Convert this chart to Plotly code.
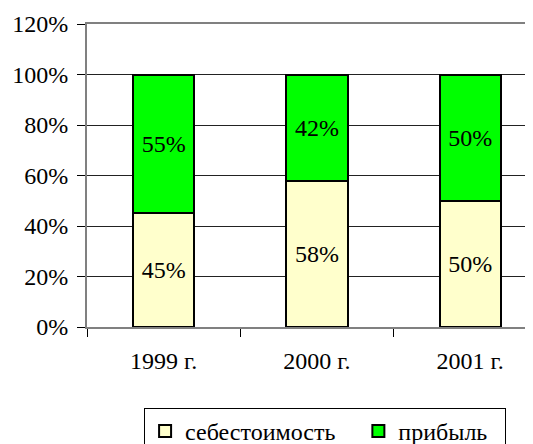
import plotly.graph_objects as go

categories = ["1999 г.", "2000 г.", "2001 г."]
cost_share = [0.45, 0.58, 0.50]
profit_share = [0.55, 0.42, 0.50]
cost_labels = ["45%", "58%", "50%"]
profit_labels = ["55%", "42%", "50%"]
series_names = ["себестоимость", "прибыль"]
y_ticks = [0, 0.2, 0.4, 0.6, 0.8, 1.0, 1.2]

FONT = "Liberation Serif"
NBSP = "\u00a0"

fig = go.Figure()
fig.add_trace(go.Bar(
    x=categories, y=cost_share, name=series_names[0] + NBSP * 3,
    text=cost_labels, textposition="inside", insidetextanchor="middle",
    textfont=dict(family=FONT, size=24, color="black"),
    marker=dict(color="#FFFFCC", line=dict(color="black", width=2)),
    width=0.4, textangle=0,
))
fig.add_trace(go.Bar(
    x=categories, y=profit_share, name=series_names[1] + NBSP * 2,
    text=profit_labels, textposition="inside", insidetextanchor="middle",
    textfont=dict(family=FONT, size=24, color="black"),
    marker=dict(color="#00FF00", line=dict(color="black", width=2)),
    width=0.4, textangle=0,
))

# page body has an 8px default margin, so margins are offset by 8px
fig.update_layout(
    template="none",
    width=533, height=444,
    margin=dict(l=79, r=8, t=16, b=125, autoexpand=False),
    barmode="stack",
    plot_bgcolor="white", paper_bgcolor="white",
    font=dict(family=FONT, size=24, color="black"),
    showlegend=True,
    legend=dict(
        orientation="h", x=0.128, xanchor="left", y=-0.267, yanchor="top",
        bordercolor="black", borderwidth=1, bgcolor="white",
        font=dict(family=FONT, size=24, color="black"),
        traceorder="normal", itemwidth=30,
    ),
    uniformtext=dict(minsize=24, mode="show"),
)
fig.update_xaxes(
    type="category", range=[-0.5, 2.41], automargin=False,
    showline=True, linecolor="#808080", linewidth=2, mirror=True,
    ticks="outside", ticklen=8, tickcolor="black", tickwidth=1,
    tickson="boundaries", showgrid=False,
    ticklabelstandoff=11,
    tickfont=dict(family=FONT, size=24, color="black"),
)
fig.update_yaxes(
    range=[0, 1.2], tickvals=y_ticks, tickformat=".0%", automargin=False,
    showline=True, linecolor="#808080", linewidth=2,
    ticks="outside", ticklen=8, tickcolor="black", tickwidth=1,
    showgrid=True, gridcolor="#222222", gridwidth=1,
    zeroline=False, ticklabelstandoff=4,
    tickfont=dict(family=FONT, size=24, color="black"),
)

fig.write_html("out.html")
